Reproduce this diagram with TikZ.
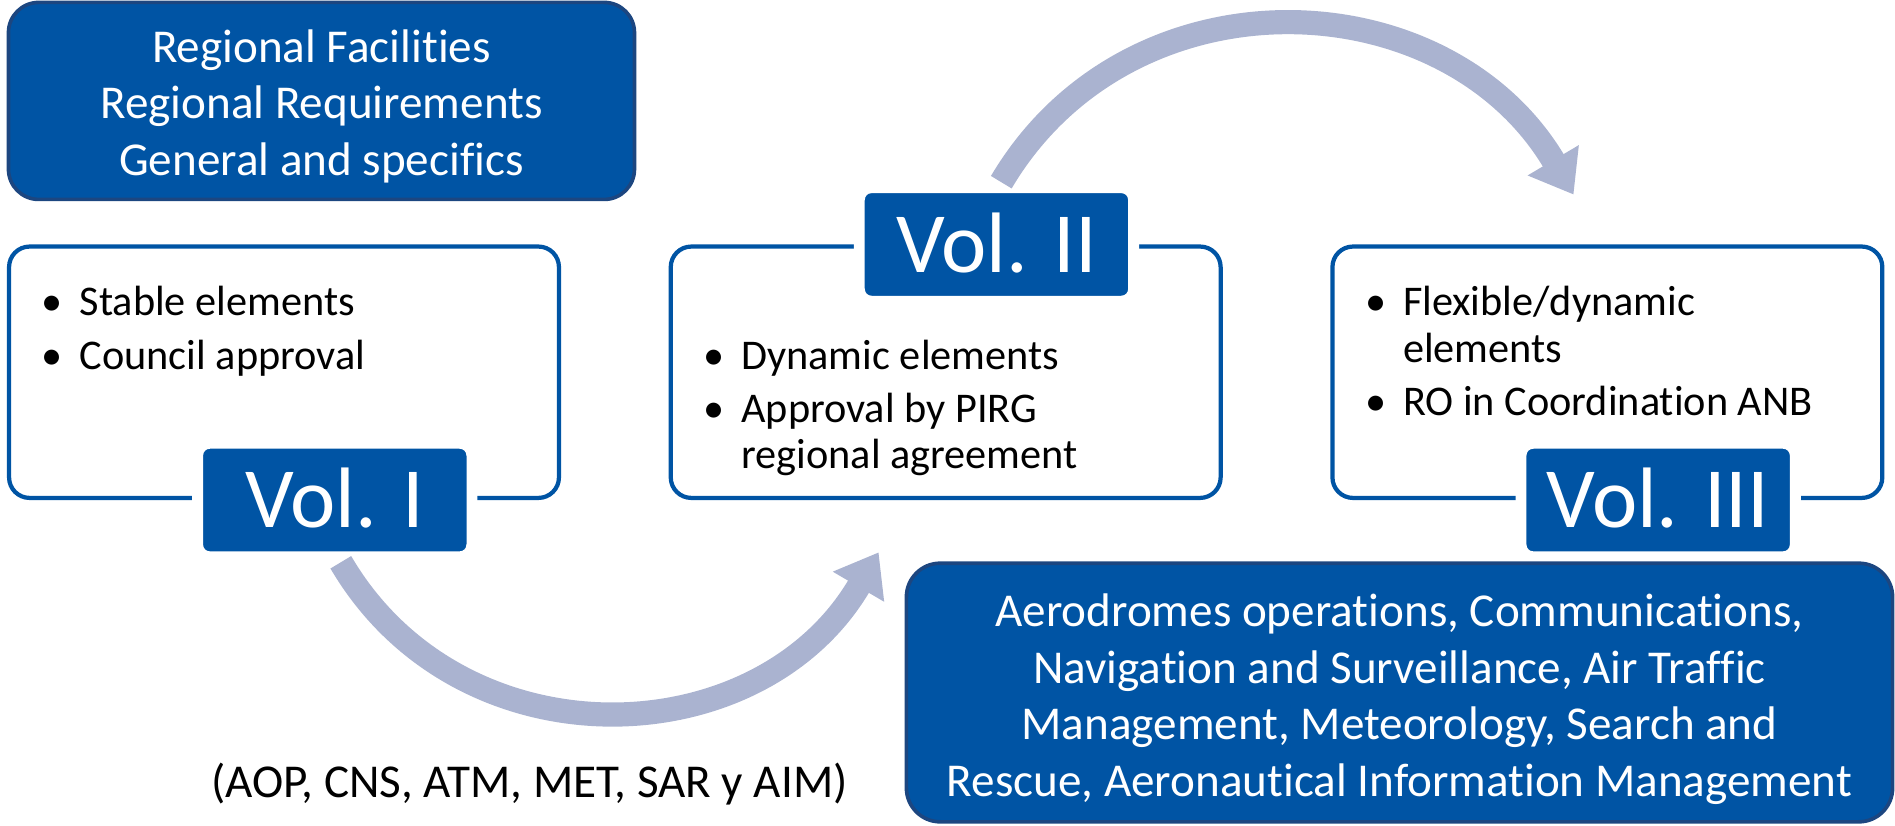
\documentclass[tikz,border=0pt]{standalone}
\usepackage{fontspec}
\setmainfont{Carlito}[Ligatures=NoCommon]
\usetikzlibrary{positioning,arrows.meta}

\definecolor{volblue}{RGB}{0,84,164}
\definecolor{voledge}{RGB}{28,70,128}
\definecolor{cyclegray}{RGB}{170,179,208}

\newcommand{\bul}{\rule{0pt}{30pt}\llap{\makebox[45pt][c]{\textbullet}}}

\tikzset{
  panel/.style={draw=volblue, line width=3.5pt, rounded corners=17pt, minimum width=455pt, minimum height=208pt},
  volbox/.style={fill=volblue, draw=white, line width=9pt, rounded corners=10pt, minimum width=227pt, minimum height=94pt,
    inner sep=0pt, text=white, font=\fontsize{71}{71}\selectfont, text height=46pt, text depth=0pt},
  darkbox/.style={fill=volblue, draw=voledge, line width=3pt, text=white, align=center, font=\fontsize{39}{47}\selectfont},
  bullets/.style={anchor=north west, inner sep=0pt, align=left, font=\fontsize{35}{38.5}\selectfont},
  cycarrow/.style={draw=cyclegray, line width=20pt, -{Triangle[width=47pt,length=33pt]}}
}

\begin{document}
\begin{tikzpicture}[x=1pt, y=-1pt]
  \useasboundingbox (0,0) rectangle (1568,683);

  \node[darkbox, rounded corners=25pt, minimum width=518pt, minimum height=163pt] (facil) at (266,83.5)
    {\rule{0pt}{36pt}Regional Facilities\\Regional Requirements\\General and specifics};

  \node[panel] (box1) at (235,308) {};
  \node[panel, right=89pt of box1] (box2) {};
  \node[panel, right=89pt of box2] (box3) {};

  \node[bullets] (list1) at ([xshift=60pt,yshift=-29pt]box1.north west)
    {\bul Stable elements\\[5.5pt]\bul Council approval};
  \node[bullets] (list2) at ([xshift=60pt,yshift=-73pt]box2.north west)
    {\bul Dynamic elements\\[5.5pt]\bul Approval by PIRG\\regional agreement};
  \node[bullets] (list3) at ([xshift=60pt,yshift=-29pt]box3.north west)
    {\bul Flexible/dynamic\\elements\\[5.5pt]\bul RO in Coordination ANB};

  \node[volbox] (vol1) at ([xshift=42pt]box1.south) {Vol. I};
  \node[volbox] (vol2) at ([xshift=42pt]box2.north) {Vol. II};
  \node[volbox] (vol3) at ([xshift=42pt]box3.south) {Vol. III};

  \node[darkbox, rounded corners=28pt, minimum width=816pt, minimum height=214pt] (areas) at (1158,573)
    {\rule{0pt}{38pt}Aerodromes operations, Communications,\\Navigation and Surveillance, Air Traffic\\Management, Meteorology, Search and\\Rescue, Aeronautical Information Management};

  \node[font=\fontsize{39}{47}\selectfont, anchor=base, inner sep=0pt] (abbrev) at (438,659.5)
    {(AOP, CNS, ATM, MET, SAR y AIM)};

  \coordinate (tipA) at (727,457);
  \coordinate (tipB) at (1302,161);
  \draw[cycarrow] ([xshift=5pt]vol1.south) .. controls +(99,169) and +(-99,169) .. (tipA);
  \draw[cycarrow] ([xshift=4pt]vol2.north) .. controls +(106,-179) and +(-106,-179) .. (tipB);
\end{tikzpicture}
\end{document}
